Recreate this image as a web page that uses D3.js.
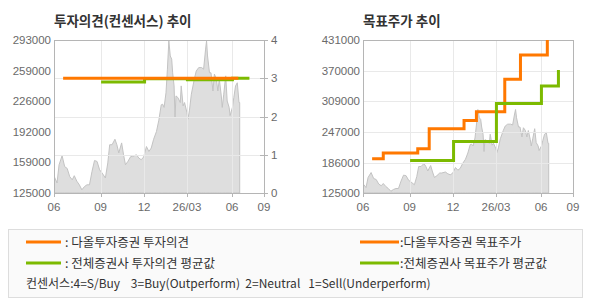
<!DOCTYPE html>
<html>
<head>
<meta charset="utf-8">
<script src="https://cdn.jsdelivr.net/npm/d3@7"></script>
<style>
    body { margin: 0; background: #fff; }
    svg text { font-family: "Liberation Sans", Arial, sans-serif; }
    svg text.kr { font-family: "Noto Sans CJK KR", "Noto Sans", sans-serif; }
</style>
</head>
<body>
<svg id="chart" width="590" height="300"></svg>
<script>
// x axis: month marks and labels
var monthTicks = ["2025-06-01", "2025-09-01", "2025-12-01", "2026-03-01", "2026-06-01", "2026-09-01"];
var monthLabels = ["06", "09", "12", "26/03", "06", "09"];

// closing price (both charts)
var priceDates = ["2025-06-02","2025-06-07","2025-06-11","2025-06-17","2025-06-22","2025-06-27","2025-07-02","2025-07-07",
    "2025-07-11","2025-07-16","2025-07-21","2025-07-26","2025-07-31","2025-08-05","2025-08-10","2025-08-15","2025-08-20",
    "2025-08-25","2025-08-30","2025-09-04","2025-09-11","2025-09-16","2025-09-20","2025-09-25","2025-10-01","2025-10-05",
    "2025-10-09","2025-10-15","2025-10-19","2025-10-23","2025-10-28","2025-11-03","2025-11-07","2025-11-15","2025-11-20",
    "2025-11-25","2025-11-30","2025-12-06","2025-12-11","2025-12-16","2025-12-21","2025-12-27","2026-01-01","2026-01-06",
    "2026-01-09","2026-01-12","2026-01-16","2026-01-19","2026-01-22","2026-01-25","2026-01-28","2026-01-30","2026-02-02",
    "2026-02-04","2026-02-06","2026-02-10","2026-02-15","2026-02-17","2026-02-21","2026-02-24","2026-03-01","2026-03-03",
    "2026-03-06","2026-03-10","2026-03-16","2026-03-20","2026-03-25","2026-03-31","2026-04-04","2026-04-08","2026-04-10",
    "2026-04-12","2026-04-16","2026-04-19","2026-04-23","2026-04-26","2026-04-30","2026-05-03","2026-05-06","2026-05-10",
    "2026-05-12","2026-05-15","2026-05-19","2026-05-22","2026-05-26","2026-05-28","2026-06-02","2026-06-06","2026-06-11",
    "2026-06-16","2026-06-21","2026-06-23"];
var closePrices = [142500,136000,156000,166000,154000,152000,143000,139500,
    144000,138000,134000,128500,132000,134000,134000,148700,160700,
    159600,150500,147000,141500,158000,178000,178000,184000,178000,
    169000,180000,167000,156000,159600,165000,165000,167000,163400,
    161500,164500,176000,170600,174300,184000,192500,205000,221800,
    222500,219000,235000,261000,292000,275500,272000,257000,242600,
    208000,231600,229800,224300,242600,220700,224300,213300,206000,
    215200,233500,250000,259000,262700,262700,261000,283000,292000,
    275500,257000,257000,237000,255500,250000,237000,250000,231600,
    219000,233500,253600,226000,219000,210000,219000,229800,242600,
    246000,224300,224300];

// opinion (4=S/Buy ... 1=Sell)
var daolOpinionDates = ["2025-06-19", "2026-06-19"];
var daolOpinion = [3, 3];
var avgOpinionDates = ["2025-09-02", "2025-12-02", "2026-03-02", "2026-06-02", "2026-07-21"];
var avgOpinion = [2.90, 2.99, 2.96, 3.0, 3.0];

// target price
var daolTargetDates = ["2025-06-19","2025-07-11","2025-09-18","2025-10-12","2025-12-24","2026-01-19","2026-03-19","2026-04-20","2026-06-19"];
var daolTarget = [193500, 204800, 213400, 253300, 270000, 287300, 352500, 401000, 460000];
var avgTargetDates = ["2025-09-02", "2025-12-02", "2026-03-02", "2026-06-02", "2026-07-21"];
var avgTarget = [190000, 228000, 303800, 339200, 371000];

// y tick labels
var leftPriceTicks = [125000, 159000, 192000, 226000, 259000, 293000];
var opinionTicks = [0, 1, 2, 3, 4];
var targetTicks = [125000, 186000, 247000, 309000, 370000, 431000];

(function(d3) {

    var parse = d3.timeParse("%Y-%m-%d");
    var zip = function(dates, vals) {
        return dates.map(function(d, i) { return { date: parse(d), value: vals[i] }; });
    };

    var priceData = zip(priceDates, closePrices);

    var svg = d3.select("#chart");
    var plotTop = 40, plotBottom = 193, plotW = 210;
    var orange = "#ff7800", green = "#7cba00", axisGrey = "#b5b5b5", labelGrey = "#6a6a6a";

    var panel = function(cfg) {
        var g = svg.append("g");
        var x = d3.scaleTime()
            .domain(monthTicks.map(parse))
            .range([0, 0.222, 0.429, 0.633, 0.848, 1].map(function(f) { return cfg.left + f * plotW; }));
        var y = d3.scaleLinear().domain(cfg.yDomain).range([plotBottom, plotTop]);

        var clipId = "clip" + cfg.id;
        svg.append("clipPath").attr("id", clipId)
            .append("rect").attr("x", cfg.left).attr("y", plotTop).attr("width", plotW).attr("height", plotBottom - plotTop);

        // price area
        var area = d3.area()
            .x(function(d) { return x(d.date); })
            .y0(plotBottom)
            .y1(function(d) { return y(d.value); });
        g.append("path").datum(priceData)
            .attr("clip-path", "url(#" + clipId + ")")
            .attr("d", area)
            .attr("fill", "#dedede")
            .attr("stroke", "#c3c3c3")
            .attr("stroke-width", 1);

        // grid
        var gridY = cfg.gridScale || y;
        g.selectAll(".hgrid").data(cfg.gridTicks.slice(1, -1)).enter().append("line")
            .attr("x1", cfg.left).attr("x2", cfg.left + plotW)
            .attr("y1", function(d) { return Math.round(gridY(d)) + 0.5; })
            .attr("y2", function(d) { return Math.round(gridY(d)) + 0.5; })
            .attr("stroke", "#e9e9e9");
        g.selectAll(".vgrid").data(monthTicks.slice(1, -1)).enter().append("line")
            .attr("x1", function(d) { return Math.round(x(parse(d))) + 0.5; })
            .attr("x2", function(d) { return Math.round(x(parse(d))) + 0.5; })
            .attr("y1", plotTop).attr("y2", plotBottom)
            .attr("stroke", "#e9e9e9");

        // frame
        g.append("rect")
            .attr("x", cfg.left + 0.5).attr("y", plotTop + 0.5)
            .attr("width", plotW).attr("height", plotBottom - plotTop)
            .attr("fill", "none").attr("stroke", axisGrey);

        // step lines
        cfg.lines.forEach(function(l) {
            var ly = l.scale || y;
            var line = d3.line()
                .curve(d3.curveStepAfter)
                .x(function(d) { return x(d.date); })
                .y(function(d) { return ly(d.value); });
            g.append("path").datum(zip(l.dates, l.values))
                .attr("clip-path", "url(#" + clipId + ")")
                .attr("d", line)
                .attr("fill", "none")
                .attr("stroke", l.color)
                .attr("stroke-width", 3);
        });

        // left axis labels
        g.selectAll(".yl").data(cfg.yTicks).enter().append("text")
            .attr("x", cfg.left - 3)
            .attr("y", function(d) { return y(d) + 4; })
            .attr("text-anchor", "end")
            .attr("font-size", 11.5)
            .attr("fill", labelGrey)
            .text(function(d) { return d; });

        // bottom axis
        g.selectAll(".xt").data(monthTicks).enter().append("line")
            .attr("x1", function(d) { return Math.round(x(parse(d))) + 0.5; })
            .attr("x2", function(d) { return Math.round(x(parse(d))) + 0.5; })
            .attr("y1", plotBottom).attr("y2", plotBottom + 4)
            .attr("stroke", axisGrey);
        g.selectAll(".xl").data(monthTicks).enter().append("text")
            .attr("x", function(d) { return x(parse(d)); })
            .attr("y", plotBottom + 18)
            .attr("text-anchor", "middle")
            .attr("font-size", 11.5)
            .attr("fill", labelGrey)
            .text(function(d, i) { return monthLabels[i]; });

        // title
        g.append("text").attr("class", "kr")
            .attr("x", cfg.left).attr("y", 26)
            .attr("font-size", 13.5).attr("font-weight", "bold")
            .attr("fill", "#333")
            .text(cfg.title);

        return { g: g, x: x, y: y };
    };

    // left: opinion
    var opScale = d3.scaleLinear().domain([0, 4]).range([plotBottom, plotTop]);
    var left = panel({
        id: "L", left: 54, title: "투자의견(컨센서스) 추이",
        yDomain: [125000, 293000], yTicks: leftPriceTicks,
        gridTicks: opinionTicks, gridScale: opScale,
        lines: [
            { dates: avgOpinionDates, values: avgOpinion, color: green, scale: opScale },
            { dates: daolOpinionDates, values: daolOpinion, color: orange, scale: opScale }
        ]
    });
    left.g.selectAll(".yr").data(opinionTicks).enter().append("line")
        .attr("x1", 54 + plotW - 4).attr("x2", 54 + plotW + 4)
        .attr("y1", function(d) { return Math.round(opScale(d)) + 0.5; })
        .attr("y2", function(d) { return Math.round(opScale(d)) + 0.5; })
        .attr("stroke", axisGrey);
    left.g.selectAll(".ylr").data(opinionTicks).enter().append("text")
        .attr("x", 54 + plotW + 7)
        .attr("y", function(d) { return opScale(d) + 4; })
        .attr("font-size", 11.5)
        .attr("fill", labelGrey)
        .text(function(d) { return d; });

    // right: target price
    panel({
        id: "R", left: 363, title: "목표주가 추이",
        yDomain: [125000, 431000], yTicks: targetTicks,
        gridTicks: targetTicks,
        lines: [
            { dates: daolTargetDates, values: daolTarget, color: orange },
            { dates: avgTargetDates, values: avgTarget, color: green }
        ]
    });

    //*** legend
    var legendItems = [
        { label: ": 다올투자증권 투자의견", color: orange, col: 0, row: 0 },
        { label: ": 전체증권사 투자의견 평균값", color: green, col: 0, row: 1 },
        { label: ":다올투자증권 목표주가", color: orange, col: 1, row: 0 },
        { label: ":전체증권사 목표주가 평균값", color: green, col: 1, row: 1 }
    ];
    var lg = svg.append("g");
    lg.append("rect")
        .attr("x", 8.5).attr("y", 229.5).attr("width", 574).attr("height", 68)
        .attr("fill", "#fafafa").attr("stroke", "#dddddd");
    var items = lg.selectAll(".item").data(legendItems).enter().append("g")
        .attr("transform", function(d) { return "translate(" + (d.col ? 360 : 26) + "," + (242 + d.row * 21) + ")"; });
    items.append("line")
        .attr("x1", 0).attr("x2", function(d) { return d.col ? 39 : 35; })
        .attr("y1", 0).attr("y2", 0)
        .attr("stroke", function(d) { return d.color; })
        .attr("stroke-width", 3);
    items.append("text").attr("class", "kr")
        .attr("x", function(d) { return d.col ? 40 : 39; })
        .attr("y", 4.5)
        .attr("font-size", 12.5)
        .attr("fill", "#333")
        .text(function(d) { return d.label; });
    lg.append("text").attr("class", "kr")
        .attr("x", 26).attr("y", 288)
        .attr("font-size", 12)
        .attr("fill", "#333")
        .attr("xml:space", "preserve")
        .style("white-space", "pre")
        .text("컨센서스:4=S/Buy    3=Buy(Outperform)  2=Neutral   1=Sell(Underperform)");

})(d3);
</script>
</body>
</html>
